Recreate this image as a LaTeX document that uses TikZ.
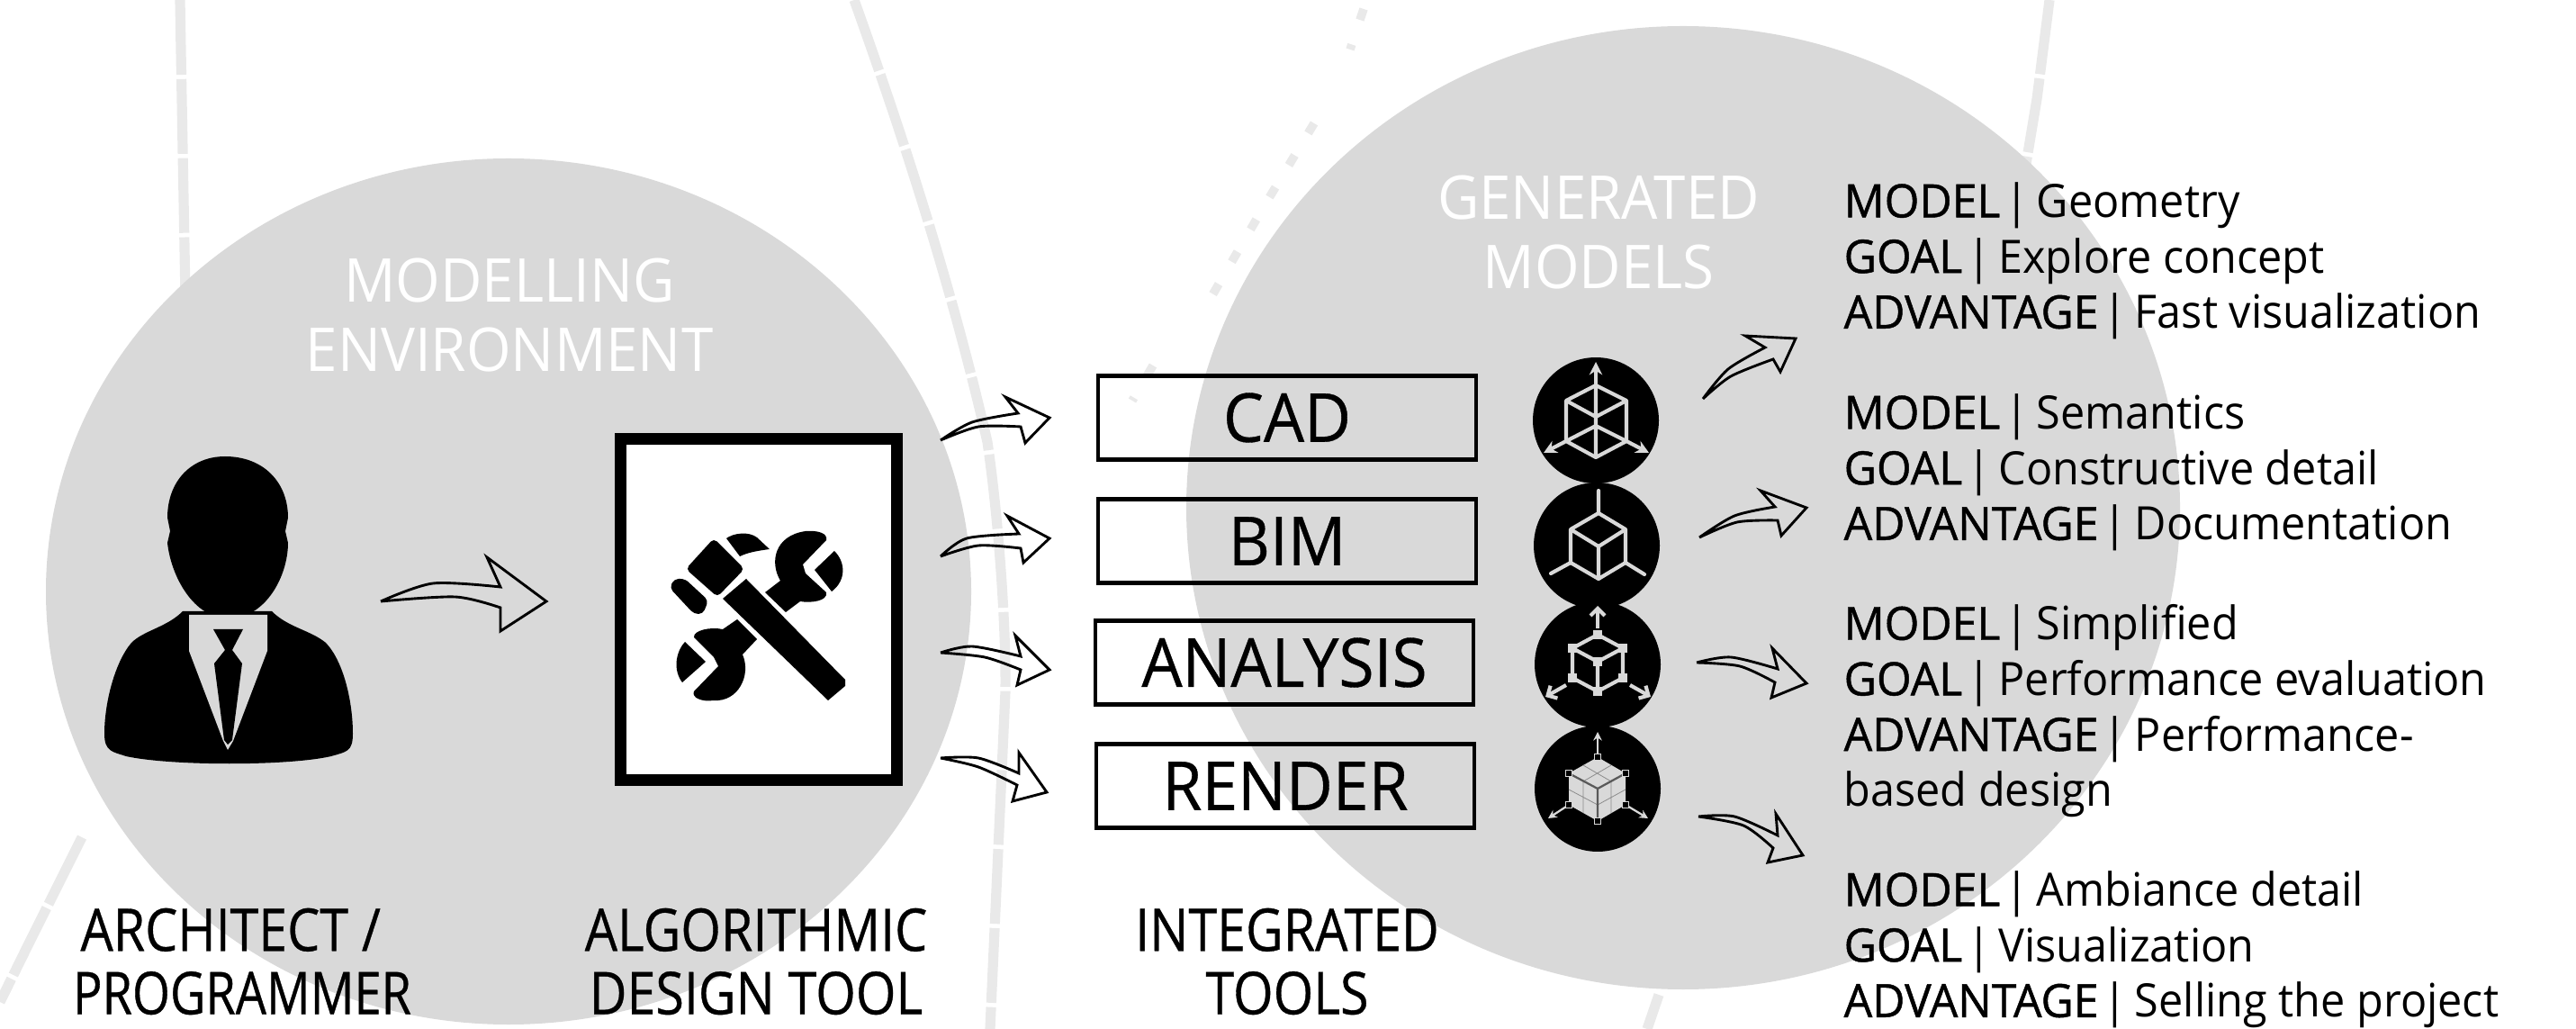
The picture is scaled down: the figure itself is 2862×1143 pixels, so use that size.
\documentclass[tikz,border=0pt]{standalone}
\usepackage{fontspec}
\setmainfont{Open Sans}[FakeStretch=0.95]
\newfontfamily\semifont{Open Sans}[FakeStretch=0.975,FakeBold=0.9]
\newfontfamily\labelfont{Open Sans}[FakeStretch=0.95,FakeBold=0.5]
\newfontfamily\capfont{Open Sans}[FakeStretch=0.875,FakeBold=0.5]
\newfontfamily\capnarrowfont{Open Sans}[FakeStretch=0.825,FakeBold=0.5]
\usetikzlibrary{arrows.meta}
\definecolor{bggray}{HTML}{D9D9D9}
\definecolor{fadegray}{HTML}{E9E9E9}
\newcommand{\head}[1]{{\semifont #1}\hspace{0.1em}|\hspace{-0.08em}}
\newcommand{\handarrow}[8]{\draw[handline] plot[smooth] coordinates {#1 #2 #3} -- #4 -- #5 -- #6 -- plot[smooth] coordinates {#7 #8 #1};}
\tikzset{
  handline/.style={draw=black,line width=0.9pt,line join=miter},
  toolbox/.style={draw=black,line width=1.5pt,minimum width=4.62cm,minimum height=1.03cm,inner sep=0pt,font=\labelfont\fontsize{23.5}{28}\selectfont},
  iconcircle/.style={circle,fill=black,minimum size=1.54cm,inner sep=0pt},
  iconline/.style={draw=bggray,line width=1.3pt,line join=round},
  captext/.style={align=center,inner sep=0pt,font=\capfont\fontsize{20.5}{22}\selectfont},
  titletext/.style={align=center,inner sep=0pt,text=white,font=\fontsize{21}{24.3}\selectfont},
  infotext/.style={align=left,anchor=north west,inner sep=0pt,font=\fontsize{16}{19.3}\selectfont},
  fadeline/.style={draw=fadegray,line width=3.5pt,dash pattern=on 26pt off 1.5pt},
  fadedots/.style={draw=fadegray,line width=3pt,dash pattern=on 4pt off 9pt}
}
\begin{document}
\begin{tikzpicture}[x=0.011cm,y=-0.011cm]
\useasboundingbox (0,0) rectangle (2862,1143);

% faded marks behind the circles
\draw[fadeline] (200,0) -- (206,330);
\draw[fadeline] (949,0) .. controls (1010,170) and (1060,330) .. (1097,491) .. controls (1110,580) and (1118,700) .. (1117,768) -- (1100,1143);
\draw[fadedots] (1515,10) -- (1500,55) (1460,137) -- (1405,228) -- (1341,338) (1281,406) -- (1258,445);
\draw[fadeline] (2277,0) -- (2263,110) -- (2248,200);
\draw[fadeline] (91,930) -- (36,1040) -- (0,1113);
\draw[fadeline] (1843,1105) -- (1830,1143);

\fill[bggray] (565,657) ellipse [x radius=514,y radius=481];
\fill[bggray] (1870,564) ellipse [x radius=552,y radius=535];

\node[titletext] (modelling) at (566,350) {MODELLING\\ENVIRONMENT};
\node[titletext] (generated) at (1776,258) {GENERATED\\MODELS};

% person
\fill[black] (250,507) .. controls (292,507) and (320,535) .. (320,575) -- (317,590) -- (320,603) .. controls (320,640) and (295,687) .. (254,687) .. controls (215,687) and (190,640) .. (186,603) -- (189,590) -- (186,575) .. controls (186,535) and (212,507) .. (250,507);
\fill[black] (203,679) .. controls (185,697) and (160,700) .. (146,714) .. controls (128,735) and (116,780) .. (116,815) .. controls (116,835) and (125,835) .. (140,840) .. controls (190,851) and (320,851) .. (368,840) .. controls (385,835) and (392,835) .. (392,815) .. controls (392,780) and (382,735) .. (362,714) .. controls (345,700) and (320,697) .. (302,679) -- cycle;
\fill[bggray] (210,683) -- (210,723) -- (248,823) -- (253,833) -- (259,823) -- (297,723) -- (297,683) -- cycle;
\fill[black] (237,699) -- (270,699) -- (258,722) -- (269,737) -- (258,822) -- (253,827) -- (249,822) -- (238,737) -- (250,722) -- cycle;

\handarrow{(423,668)}{(481,648)}{(556,652)}{(541,619)}{(607,668)}{(556,701)}{(556,675)}{(506,663)}

% tool frame
\node[draw=black,fill=white,line width=4pt,minimum width=3.38cm,minimum height=4.17cm,inner sep=0pt] (toolframe) at (843,677) {};
\fill[black] (829,643) -- (939,755) -- (939,762) -- (920,778) -- (803,665) -- cycle;
\fill[black,rounded corners=1.5pt] (793,598) -- (827,632) -- (797,663) -- (762,632) -- cycle;
\fill[black,rounded corners=1.5pt] (761,643) -- (787,667) -- (781,682) -- (771,682) -- (744,653) -- (749,643) -- cycle;
\fill[black] (807,598) .. controls (815,592) and (832,590) .. (841,597) -- (855,610) .. controls (840,612) and (830,614) .. (822,618) -- cycle;
\fill[black] (850,658) -- (867,645) .. controls (855,625) and (860,595) .. (895,590) .. controls (908,589) and (920,592) .. (918,600) -- (892,627) -- (895,637) -- (918,658) .. controls (920,668) and (900,670) .. (889,668) -- (873,680) -- cycle;
\fill[black] (927,612) .. controls (940,625) and (940,645) .. (924,657) -- (905,633) -- cycle;
\fill[black] (819,688) -- (841,710) -- (825,727) .. controls (835,750) and (820,780) .. (793,778) .. controls (780,780) and (768,775) .. (771,768) -- (798,740) -- (793,730) -- (771,708) .. controls (770,700) and (790,696) .. (803,699) -- cycle;
\fill[black] (761,713) -- (784,735) -- (758,758) .. controls (748,745) and (750,725) .. (761,713) -- cycle;

% tools
\node[toolbox] (cad) at (1430,464) {CAD};
\node[toolbox] (bim) at (1430,601) {BIM};
\node[toolbox] (analysis) at (1427,736) {ANALYSIS};
\node[toolbox] (render) at (1428,873) {RENDER};

\handarrow{(1045,489)}{(1080,469)}{(1131,459)}{(1117,441)}{(1166,464)}{(1139,492)}{(1134,474)}{(1087,474)}
\handarrow{(1045,618)}{(1074,598)}{(1132,593)}{(1119,573)}{(1166,598)}{(1137,625)}{(1134,609)}{(1087,606)}
\handarrow{(1045,725)}{(1080,718)}{(1134,729)}{(1128,706)}{(1166,744)}{(1130,761)}{(1134,744)}{(1094,730)}
\handarrow{(1045,842)}{(1087,842)}{(1132,859)}{(1132,836)}{(1163,880)}{(1125,890)}{(1130,872)}{(1087,852)}

% model icons
\node[iconcircle] (cadicon) at (1773,467) {};
\node[iconcircle] (bimicon) at (1774,606) {};
\node[iconcircle] (analysisicon) at (1775,738) {};
\node[iconcircle] (rendericon) at (1775,876) {};

\draw[iconline] (1773,428) -- (1740,445) -- (1740,490) -- (1773,508) -- (1807,490) -- (1807,445) -- cycle;
\draw[iconline] (1740,445) -- (1773,463) -- (1807,445) (1740,490) -- (1773,473) -- (1807,490) (1773,428) -- (1773,508);
\draw[iconline,-{Stealth[length=4.5pt,width=4.5pt]}] (1773,428) -- (1773,402);
\draw[iconline,-{Stealth[length=4.5pt,width=4.5pt]}] (1740,490) -- (1715,503);
\draw[iconline,-{Stealth[length=4.5pt,width=4.5pt]}] (1807,490) -- (1832,503);

\draw[iconline] (1776,570) -- (1745,588) -- (1745,625) -- (1776,643) -- (1806,625) -- (1806,588) -- cycle;
\draw[iconline] (1745,588) -- (1776,607) -- (1806,588) (1776,607) -- (1776,643);
\draw[iconline,line cap=round] (1776,545) -- (1776,570) (1745,625) -- (1723,637) (1806,625) -- (1827,638);

\draw[iconline] (1775,705) -- (1747,720) -- (1747,753) -- (1775,768) -- (1803,753) -- (1803,720) -- cycle;
\draw[iconline] (1747,720) -- (1775,735) -- (1803,720) (1775,735) -- (1775,768);
\foreach \hx/\hy in {1775/705,1747/720,1803/720,1775/735,1747/753,1803/753,1775/768}
  \fill[bggray] (\hx-5,\hy-5) rectangle (\hx+5,\hy+5);
\draw[iconline,->,>={Straight Barb[length=2.5pt,width=5pt]}] (1775,698) -- (1775,673);
\draw[iconline,->,>={Straight Barb[length=2.5pt,width=5pt]}] (1740,761) -- (1717,774);
\draw[iconline,->,>={Straight Barb[length=2.5pt,width=5pt]}] (1811,761) -- (1834,774);

\fill[bggray] (1775,841) -- (1743,859) -- (1743,894) -- (1775,912) -- (1806,894) -- (1806,859) -- cycle;
\draw[black!45,line width=0.25pt] (1759,850) -- (1790,868) (1790,850) -- (1759,868) (1759,868) -- (1759,903) (1790,868) -- (1790,903) (1743,877) -- (1775,894) -- (1806,877);
\draw[black!65,line width=0.7pt] (1743,859) -- (1775,876) -- (1806,859) (1775,876) -- (1775,912);
\draw[bggray,line width=0.7pt,-{Stealth[length=3pt,width=3pt]}] (1775,841) -- (1775,813);
\draw[bggray,line width=0.7pt,-{Stealth[length=3pt,width=3pt]}] (1743,894) -- (1720,909);
\draw[bggray,line width=0.7pt,-{Stealth[length=3pt,width=3pt]}] (1806,894) -- (1831,909);
\foreach \hx/\hy in {1775/841,1743/859,1806/859,1743/894,1806/894,1775/912}
  \draw[bggray,fill=black,line width=0.6pt] (\hx-3.5,\hy-3.5) rectangle (\hx+3.5,\hy+3.5);

\handarrow{(1892,443)}{(1920,410)}{(1961,386)}{(1939,373)}{(1995,376)}{(1978,413)}{(1970,399)}{(1923,418)}
\handarrow{(1888,597)}{(1927,573)}{(1972,563)}{(1956,545)}{(2007,564)}{(1979,595)}{(1975,578)}{(1930,580)}
\handarrow{(1885,736)}{(1923,730)}{(1975,743)}{(1969,720)}{(2007,759)}{(1968,775)}{(1972,758)}{(1933,740)}
\handarrow{(1887,907)}{(1927,907)}{(1975,928)}{(1973,904)}{(2003,950)}{(1964,958)}{(1970,942)}{(1937,917)}

% captions
\node[captext] (architect) at (269,1068) {ARCHITECT /\hspace*{8pt}\\{\capnarrowfont PROGRAMMER}};
\node[captext] (algorithmic) at (840,1068) {ALGORITHMIC\\DESIGN TOOL};
\node[captext] (integrated) at (1430,1068) {INTEGRATED\\TOOLS};

% model notes
\node[infotext] (geometry) at (2048,202) {\head{MODEL} Geometry\\\head{GOAL} Explore concept\\\head{ADVANTAGE} Fast visualization};
\node[infotext] (semantics) at (2048,437) {\head{MODEL} Semantics\\\head{GOAL} Constructive detail\\\head{ADVANTAGE} Documentation};
\node[infotext] (simplified) at (2048,671) {\head{MODEL} Simplified\\\head{GOAL} Performance evaluation\\\head{ADVANTAGE} Performance-\\based design};
\node[infotext] (ambiance) at (2048,967) {\head{MODEL} Ambiance detail\\\head{GOAL} Visualization\\\head{ADVANTAGE} Selling the project};
\end{tikzpicture}
\end{document}
